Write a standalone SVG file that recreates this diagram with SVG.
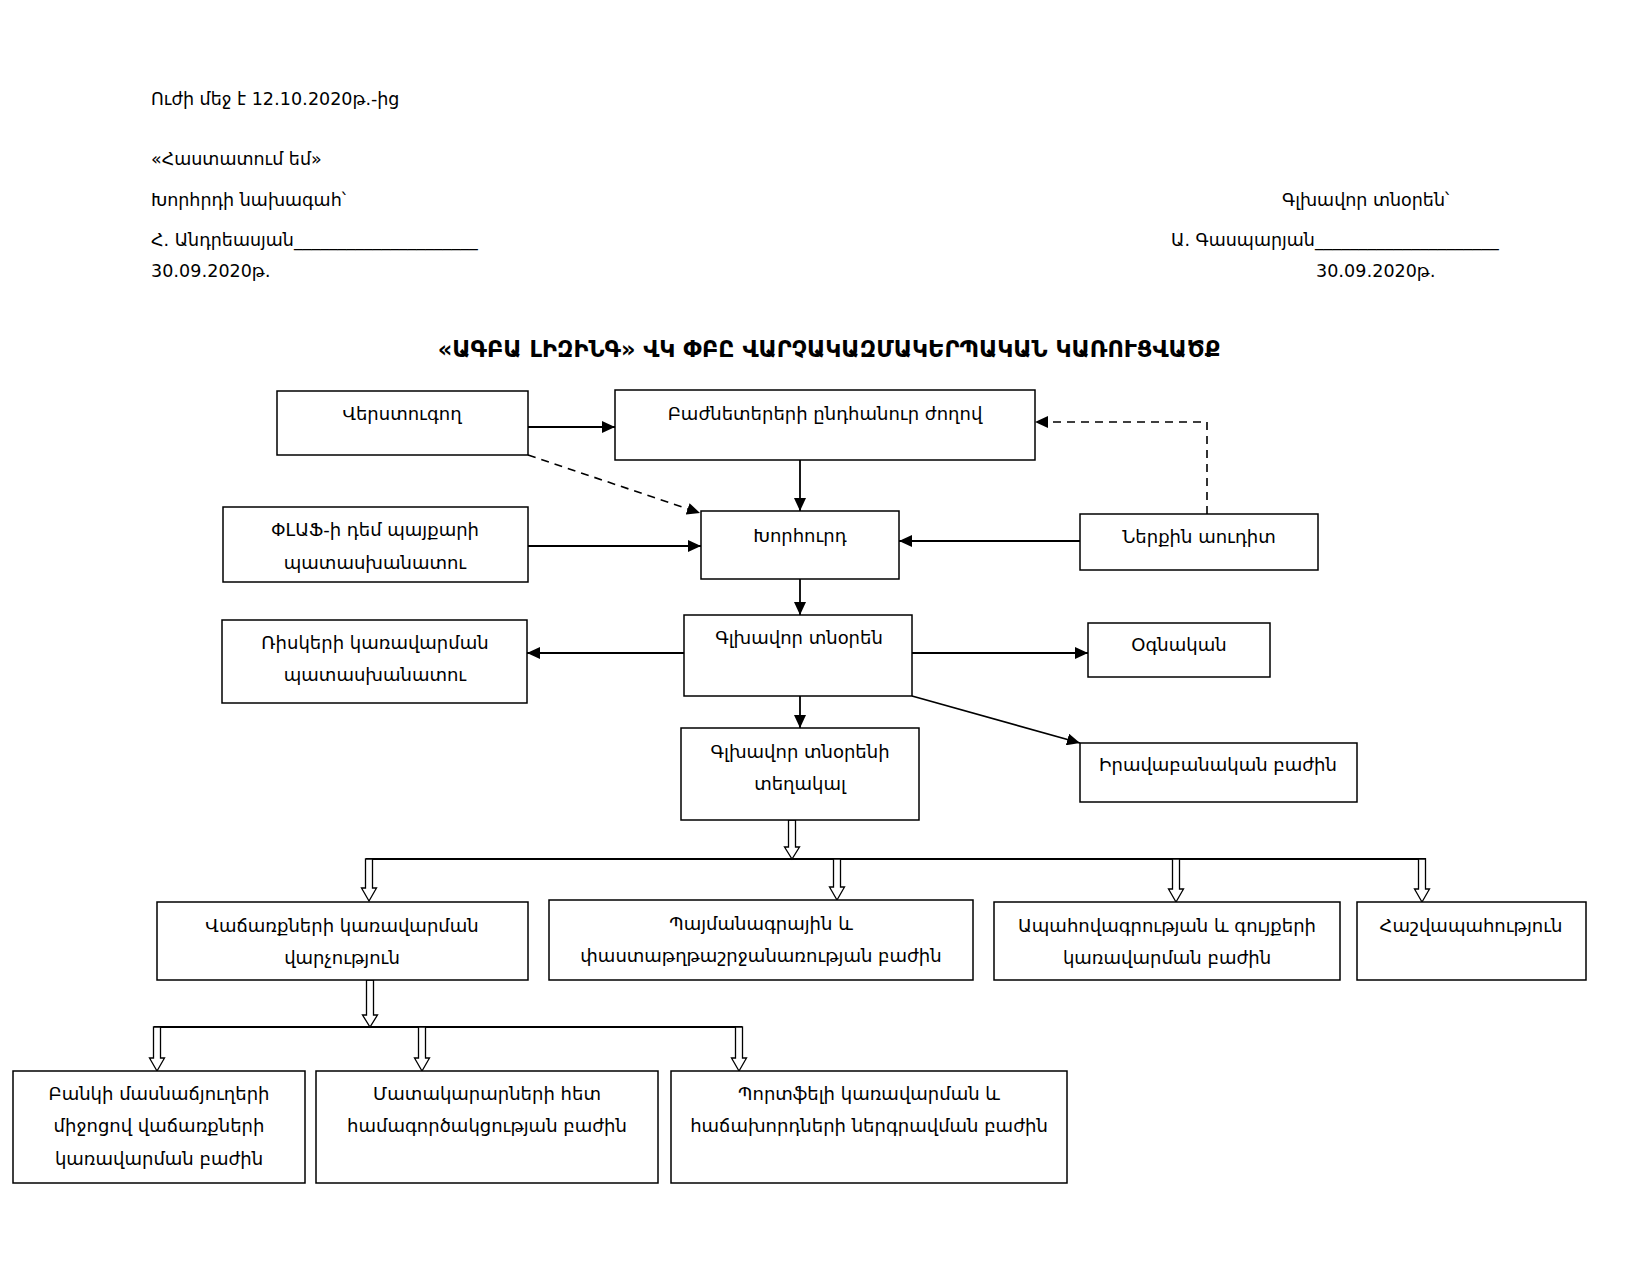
<svg xmlns="http://www.w3.org/2000/svg" width="1650" height="1275" viewBox="0 0 1650 1275">
<style>
text{font-family:"DejaVu Sans","Noto Sans",sans-serif;font-size:18px;fill:#000}
.c{text-anchor:middle}
.h{font-size:17.5px}
.t{font-weight:bold;font-size:22.5px}
.box{fill:#fff;stroke:#000;stroke-width:1.5}
.ln{fill:none;stroke:#000;stroke-width:1.8}
.dash{fill:none;stroke:#000;stroke-width:1.6;stroke-dasharray:8,6}
.ha{fill:#fff;stroke:#000;stroke-width:1.3}
</style>
<defs>
<marker id="ar" markerUnits="userSpaceOnUse" markerWidth="14" markerHeight="12" refX="13" refY="6" orient="auto">
<path d="M0,0 L13,6 L0,12 z" fill="#000"/>
</marker>
</defs>
<rect width="1650" height="1275" fill="#fff"/>
<g id="header">
<text class="h" x="151" y="105">Ուժի մեջ է 12․10․2020թ.-ից</text>
<text class="h" x="151" y="165">«Հաստատում եմ»</text>
<text class="h" x="151" y="206">Խորհրդի նախագահ՝</text>
<text class="h" x="151" y="246">Հ. Անդրեասյան_____________________</text>
<text class="h" x="151" y="277">30․09․2020թ․</text>
<text class="h" x="1282" y="206">Գլխավոր տնօրեն՝</text>
<text class="h" x="1171" y="246">Ա. Գասպարյան_____________________</text>
<text class="h" x="1316" y="277">30․09․2020թ․</text>
<text class="c t" x="829" y="357">«ԱԳԲԱ ԼԻԶԻՆԳ» ՎԿ ՓԲԸ ՎԱՐՉԱԿԱԶՄԱԿԵՐՊԱԿԱՆ ԿԱՌՈՒՑՎԱԾՔ</text>
</g>
<g id="connectors">
<line class="ln" x1="528" y1="427" x2="615" y2="427" marker-end="url(#ar)"/>
<line class="dash" x1="528" y1="455" x2="700" y2="513" marker-end="url(#ar)"/>
<line class="ln" x1="800" y1="460" x2="800" y2="511" marker-end="url(#ar)"/>
<line class="ln" x1="528" y1="546" x2="701" y2="546" marker-end="url(#ar)"/>
<line class="ln" x1="1080" y1="541" x2="899" y2="541" marker-end="url(#ar)"/>
<polyline class="dash" points="1207,514 1207,422 1035,422" marker-end="url(#ar)"/>
<line class="ln" x1="800" y1="579" x2="800" y2="615" marker-end="url(#ar)"/>
<line class="ln" x1="684" y1="653" x2="527" y2="653" marker-end="url(#ar)"/>
<line class="ln" x1="912" y1="653" x2="1088" y2="653" marker-end="url(#ar)"/>
<line class="ln" x1="912" y1="696" x2="1080" y2="743" marker-end="url(#ar)"/>
<line class="ln" x1="800" y1="696" x2="800" y2="728" marker-end="url(#ar)"/>
<line class="ln" x1="366" y1="859" x2="1426" y2="859"/>
<line class="ln" x1="154" y1="1027" x2="742" y2="1027"/>
<polygon class="ha" points="788.5,820 795.5,820 795.5,847 799.5,847 792,859 784.5,847 788.5,847"/>
<polygon class="ha" points="365.5,859 372.5,859 372.5,888 376.5,888 369,901 361.5,888 365.5,888"/>
<polygon class="ha" points="833.5,859 840.5,859 840.5,887 844.5,887 837,900 829.5,887 833.5,887"/>
<polygon class="ha" points="1172.5,859 1179.5,859 1179.5,889 1183.5,889 1176,902 1168.5,889 1172.5,889"/>
<polygon class="ha" points="1418.5,859 1425.5,859 1425.5,889 1429.5,889 1422,902 1414.5,889 1418.5,889"/>
<polygon class="ha" points="366.5,980 373.5,980 373.5,1015 377.5,1015 370,1027 362.5,1015 366.5,1015"/>
<polygon class="ha" points="153.5,1027 160.5,1027 160.5,1058 164.5,1058 157,1071 149.5,1058 153.5,1058"/>
<polygon class="ha" points="418.5,1027 425.5,1027 425.5,1058 429.5,1058 422,1071 414.5,1058 418.5,1058"/>
<polygon class="ha" points="735.5,1027 742.5,1027 742.5,1058 746.5,1058 739,1071 731.5,1058 735.5,1058"/>
</g>
<g id="n1"><rect class="box" x="277" y="391" width="251" height="64"/><text class="c" x="402" y="420">Վերստուգող</text></g>
<g id="n2"><rect class="box" x="615" y="390" width="420" height="70"/><text class="c" x="825" y="420">Բաժնետերերի ընդհանուր ժողով</text></g>
<g id="n3"><rect class="box" x="223" y="507" width="305" height="75"/><text class="c" x="375" y="536">ՓԼԱՖ-ի դեմ պայքարի</text><text class="c" x="375" y="569">պատասխանատու</text></g>
<g id="n4"><rect class="box" x="701" y="511" width="198" height="68"/><text class="c" x="800" y="542">Խորհուրդ</text></g>
<g id="n5"><rect class="box" x="1080" y="514" width="238" height="56"/><text class="c" x="1199" y="543">Ներքին աուդիտ</text></g>
<g id="n6"><rect class="box" x="222" y="620" width="305" height="83"/><text class="c" x="375" y="649">Ռիսկերի կառավարման</text><text class="c" x="375" y="681">պատասխանատու</text></g>
<g id="n7"><rect class="box" x="684" y="615" width="228" height="81"/><text class="c" x="799" y="644">Գլխավոր տնօրեն</text></g>
<g id="n8"><rect class="box" x="1088" y="623" width="182" height="54"/><text class="c" x="1179" y="651">Օգնական</text></g>
<g id="n9"><rect class="box" x="681" y="728" width="238" height="92"/><text class="c" x="800" y="758">Գլխավոր տնօրենի</text><text class="c" x="800" y="790">տեղակալ</text></g>
<g id="n10"><rect class="box" x="1080" y="743" width="277" height="59"/><text class="c" x="1218" y="771">Իրավաբանական բաժին</text></g>
<g id="n11"><rect class="box" x="157" y="902" width="371" height="78"/><text class="c" x="342" y="932">Վաճառքների կառավարման</text><text class="c" x="342" y="964">վարչություն</text></g>
<g id="n12"><rect class="box" x="549" y="900" width="424" height="80"/><text class="c" x="761" y="930">Պայմանագրային և</text><text class="c" x="761" y="962">փաստաթղթաշրջանառության  բաժին</text></g>
<g id="n13"><rect class="box" x="994" y="902" width="346" height="78"/><text class="c" x="1167" y="932">Ապահովագրության և գույքերի</text><text class="c" x="1167" y="964">կառավարման բաժին</text></g>
<g id="n14"><rect class="box" x="1357" y="902" width="229" height="78"/><text class="c" x="1471" y="932">Հաշվապահություն</text></g>
<g id="n15"><rect class="box" x="13" y="1071" width="292" height="112"/><text class="c" x="159" y="1100">Բանկի մասնաճյուղերի</text><text class="c" x="159" y="1132">միջոցով վաճառքների</text><text class="c" x="159" y="1165">կառավարման բաժին</text></g>
<g id="n16"><rect class="box" x="316" y="1071" width="342" height="112"/><text class="c" x="487" y="1100">Մատակարարների հետ</text><text class="c" x="487" y="1132">համագործակցության բաժին</text></g>
<g id="n17"><rect class="box" x="671" y="1071" width="396" height="112"/><text class="c" x="869" y="1100">Պորտֆելի  կառավարման  և</text><text class="c" x="869" y="1132">հաճախորդների ներգրավման բաժին</text></g>
</svg>
